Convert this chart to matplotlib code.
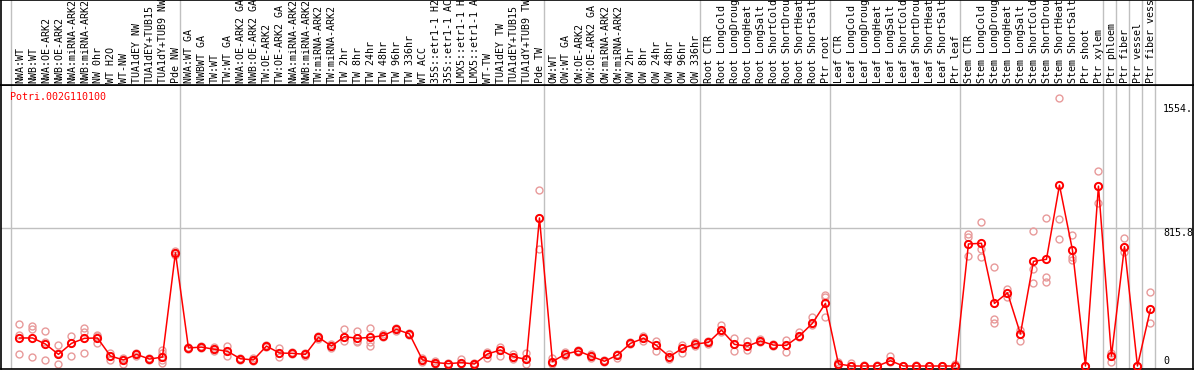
import numpy as np
import matplotlib
matplotlib.use("Agg")
import matplotlib.pyplot as plt
from matplotlib.transforms import blended_transform_factory

# sample names (as shown, cut to 14 chars)
samples = ["NWA:WT", "NWB:WT", "NWA:OE-ARK2", "NWB:OE-ARK2", "NWA:miRNA-ARK2", "NWB:miRNA-ARK2",
           "NW 0hr", "WT H2O", "WT-NW", "TUA1dEY NW", "TUA1dEY+TUB15", "TUA1dY+TUB9 NW", "Pde NW",
           "NWA:WT GA", "NWBWT GA", "TW:WT", "TW:WT GA", "NWA:OE-ARK2 GA", "NWB:OE-ARK2 GA",
           "TW:OE-ARK2", "TW:OE-ARK2 GA", "NWA:miRNA-ARK2", "NWB:miRNA-ARK2", "TW:miRNA-ARK2",
           "TW:miRNA-ARK2", "TW 2hr", "TW 8hr", "TW 24hr", "TW 48hr", "TW 96hr", "TW 336hr", "WT ACC",
           "35S::etr1-1 H2", "35S::etr1-1 AC", "LMX5::etr1-1 H", "LMX5::etr1-1 A", "WT-TW",
           "TUA1dEY TW", "TUA1dEY+TUB15", "TUA1dY+TUB9 TW", "Pde TW",
           "OW:WT", "OW:WT GA", "OW:OE-ARK2", "OW:OE-ARK2 GA", "OW:miRNA-ARK2", "OW:miRNA-ARK2",
           "OW 2hr", "OW 8hr", "OW 24hr", "OW 48hr", "OW 96hr", "OW 336hr",
           "Root CTR", "Root LongCold", "Root LongDroug", "Root LongHeat", "Root LongSalt",
           "Root ShortCold", "Root ShortDrou", "Root ShortHeat", "Root ShortSalt", "Ptr root",
           "Leaf CTR", "Leaf LongCold", "Leaf LongDroug", "Leaf LongHeat", "Leaf LongSalt",
           "Leaf ShortCold", "Leaf ShortDrou", "Leaf ShortHeat", "Leaf ShortSalt", "Ptr leaf",
           "Stem CTR", "Stem LongCold", "Stem LongDroug", "Stem LongHeat", "Stem LongSalt",
           "Stem ShortCold", "Stem ShortDrou", "Stem ShortHeat", "Stem ShortSalt", "Ptr shoot",
           "Ptr xylem", "Ptr phloem", "Ptr fiber", "Ptr vessel", "Ptr fiber vess"]

# group boundaries (index of first sample of each group)
group_starts = [0, 13, 41, 53, 63, 73, 84, 85, 86, 87, 88]

# mean expression
means = [166, 166, 130, 69, 134, 164, 166, 59, 36, 69, 41, 53, 671,
         107, 112, 99, 87, 43, 36, 118, 77, 75, 69, 170, 118, 174, 164, 170, 180, 217, 190,
         36, 20, 14, 20, 12, 71, 95, 55, 39, 877,
         26, 71, 89, 57, 28, 65, 134, 164, 122, 55, 105, 130,
         140, 213, 128, 118, 148, 124, 122, 178, 253, 371,
         12, 0, 0, 0, 31, 0, 0, 0, 0, 0,
         723, 727, 371, 434, 190, 620, 632, 1071, 687, 0, 1066,
         59, 707, 0, 336]

# replicates
reps = [[247, 184, 69], [237, 217, 53], [207, 144, 36], [122, 10, 75], [178, 59, 134],
        [223, 203, 75], [184, 138, 175], [75, 36, 59], [49, 12, 40], [75, 62, 69],
        [49, 36, 41], [95, 75, 36, 16], [683, 660, 671],
        [115, 99, 107], [118, 105, 112], [110, 90, 99], [120, 61, 87], [50, 36, 43],
        [48, 30, 36], [125, 112, 118], [105, 51, 77], [80, 70, 75], [75, 62, 69],
        [178, 160, 170], [130, 105, 118], [219, 148, 174], [207, 150, 140], [225, 140, 120],
        [188, 172, 180], [225, 210, 217], [198, 182, 190], [48, 26, 36], [28, 14, 20],
        [18, 10, 14], [40, 14, 20], [18, 8, 12], [85, 50, 71], [115, 59, 95],
        [72, 40, 55], [75, 12, 39], [1043, 691, 877],
        [45, 12, 26], [85, 60, 71], [96, 82, 89], [70, 50, 57], [34, 22, 28], [72, 48, 65],
        [140, 128, 134], [178, 150, 164], [150, 91, 122], [70, 40, 55], [124, 75, 105],
        [140, 120, 130],
        [148, 132, 140], [241, 200, 213], [164, 89, 128], [150, 95, 118], [160, 140, 148],
        [132, 116, 124], [154, 81, 122], [203, 170, 178], [288, 240, 253], [421, 407, 292],
        [25, 5, 12], [20, 0, 0], [8, 0, 0], [4, 0, 0], [61, 25, 31], [2, 0, 0], [3, 0, 0],
        [2, 0, 0], [2, 0, 0], [12, 0, 0],
        [782, 762, 652], [851, 693, 644], [585, 280, 257], [454, 407, 434], [213, 146, 190],
        [798, 573, 490], [877, 529, 498], [1586, 869, 751], [776, 648, 628], [0, 0, 0],
        [1155, 964, 1066],
        [79, 26, 59], [757, 677, 707], [0, 0, 0], [438, 253, 336]]

gene = "Potri.002G110100"
ytick_vals = [1554, 815.8, 0]
ytick_txt = ["1554.", "815.8", "0"]

W, H = 1194, 370
fig = plt.figure(figsize=(W / 100, H / 100), dpi=100)
fig.patch.set_facecolor("white")

mono = "DejaVu Sans Mono"
fs = 7.2
grey = "#c0c0c0"

# pixel helpers for axes placement
def fx(px):
    return px / W

def fy(py):
    return 1 - py / H

ax = fig.add_axes([fx(1), fy(369), fx(1192), fy(85) - fy(369)])
axh = fig.add_axes([fx(1), fy(85), fx(1192), fy(0) - fy(85)])

xl = ((1 - 11) / 13, (1193 - 11) / 13)
scale = 0.1688
yl = ((366 - 369) / scale, (366 - 85) / scale)

for a in (ax, axh):
    a.set_xlim(xl)
    a.set_xticks([])
    a.set_yticks([])
    for s in a.spines.values():
        s.set_color("black")
        s.set_linewidth(1.2)
    for g in group_starts:
        a.axvline(g, color=grey, linewidth=1, zorder=0)
ax.set_ylim(yl)
axh.set_ylim(0, 1)

x = np.arange(len(samples)) + 0.65

# grid line at middle tick
ax.axhline(815.8, color=grey, linewidth=1, zorder=0)

# replicates
for i, r in enumerate(reps):
    ax.plot([x[i]] * len(r), r, linestyle="none", marker="o", markersize=5,
            markerfacecolor="none", markeredgecolor="#e89a9a", markeredgewidth=1.0, zorder=2,
            clip_on=False)

# means
ax.plot(x, means, color="red", linewidth=1.1, marker="o", markersize=5.2,
        markerfacecolor="none", markeredgecolor="red", markeredgewidth=1.4, zorder=3,
        clip_on=False)

# sample labels in header
tr = blended_transform_factory(axh.transData, axh.transAxes)
for i, name in enumerate(samples):
    axh.text(x[i] + 0.05, 2 / 85, name[:14], rotation=90, ha="center", va="bottom",
             family=mono, fontsize=fs, color="black", transform=tr)

# gene name
ax.text(-1 / 13, (366 - 92) / scale, gene, ha="left", va="top", family=mono,
        fontsize=fs, color="red")

# value labels at right
for v, t in zip(ytick_vals, ytick_txt):
    va = "bottom" if v == 0 else "top"
    ax.text((1163 - 11) / 13, v, t, ha="left", va=va, family=mono, fontsize=fs, color="black")

fig.savefig("out.png", dpi=100)
